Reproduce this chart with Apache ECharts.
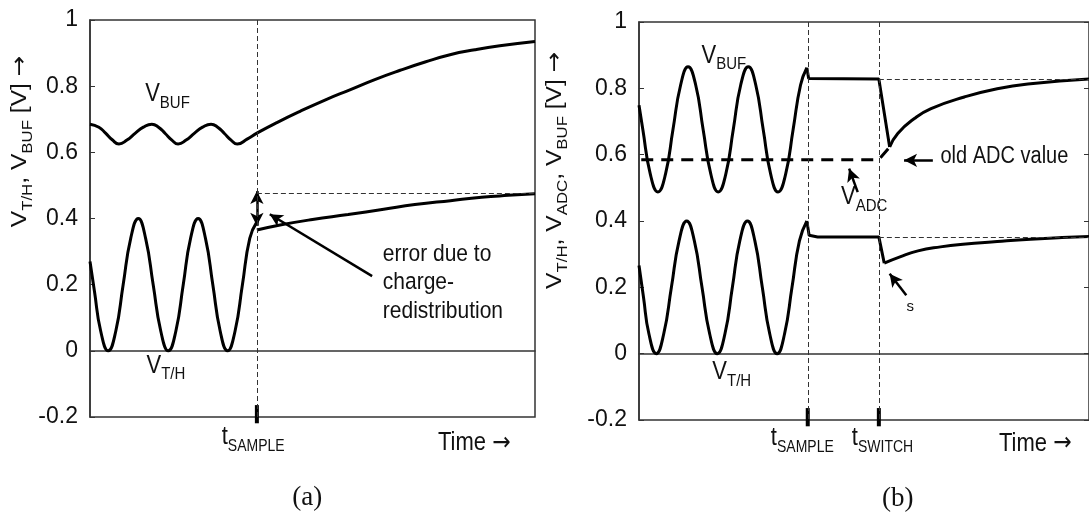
<!DOCTYPE html>
<html>
<head>
<meta charset="utf-8">
<script src="https://cdn.jsdelivr.net/npm/echarts@6/dist/echarts.min.js"></script>
<style>
  html, body { margin: 0; background: #fff; }
  #main { width: 1089px; height: 522px; }
</style>
</head>
<body>
<div id="main"></div>
<script>
// values; time runs 0..100 across each plot
const yMin = -0.2, yMax = 1, yStep = 0.2;
const tSampleA = 37.5;
const tSampleB = 37.5, tSwitchB = 53.3;

// panel (a): track phase, held value after t_SAMPLE, buffer output
const aVthTrack = [[0, 0.27], [1.0, 0.18], [2.4, 0.06], [4.1, 0], [5.8, 0.06], [7.45, 0.2], [9.15, 0.34], [10.85, 0.4],
  [12.5, 0.34], [14.2, 0.2], [15.9, 0.06], [17.6, 0], [19.3, 0.06], [20.95, 0.2], [22.6, 0.34], [24.3, 0.4],
  [25.95, 0.34], [27.6, 0.2], [29.25, 0.06], [30.9, 0], [32.6, 0.06], [34.25, 0.2], [35.9, 0.34], [37.5, 0.39]];
const aVthHeld = [[37.5, 0.365], [43, 0.381], [50, 0.397], [58, 0.412], [66, 0.428], [73, 0.442], [81, 0.454],
  [88, 0.464], [94, 0.47], [100, 0.475]];
const aVbuf = [[0, 0.685], [2.0, 0.676], [3.5, 0.658], [5.0, 0.638], [6.5, 0.625], [8.3, 0.637], [10.2, 0.658],
  [12.0, 0.676], [13.9, 0.685], [15.4, 0.676], [16.9, 0.657], [18.4, 0.637], [19.8, 0.625], [21.6, 0.637],
  [23.5, 0.658], [25.3, 0.676], [27.2, 0.685], [28.7, 0.676], [30.2, 0.657], [31.7, 0.637], [33.1, 0.625],
  [35.3, 0.64], [37.5, 0.658], [42, 0.69], [47.2, 0.724], [52.8, 0.758], [58.4, 0.789], [64, 0.82],
  [69.7, 0.848], [75.3, 0.873], [80.9, 0.895], [86.5, 0.91], [92.1, 0.922], [100, 0.935]];
const aVthIdeal = 0.475;

// panel (b)
const bVthTrack = [[0, 0.266], [1.0, 0.17], [2.2, 0.06], [3.84, 0], [5.5, 0.06], [7.2, 0.2], [8.9, 0.34], [10.6, 0.4],
  [12.3, 0.34], [14.0, 0.2], [15.7, 0.06], [17.4, 0], [19.1, 0.06], [20.75, 0.2], [22.4, 0.34], [24.1, 0.4],
  [25.75, 0.34], [27.4, 0.2], [29.05, 0.06], [30.7, 0], [32.35, 0.06], [34.0, 0.2], [35.65, 0.34], [37.3, 0.4]];
const bVthHold = [[37.3, 0.4], [37.8, 0.357], [39.7, 0.352], [53.3, 0.352], [54.5, 0.273]];
const bVthSettle = [[54.5, 0.273], [58, 0.292], [62, 0.31], [67, 0.322], [72, 0.33], [79.6, 0.338],
  [87, 0.345], [94, 0.35], [100, 0.353]];
const bVbufTrack = [[0, 0.749], [0.85, 0.676], [2.5, 0.542], [4.2, 0.4875], [5.9, 0.542], [7.55, 0.676],
  [9.25, 0.81], [10.9, 0.865], [12.6, 0.81], [14.25, 0.676], [15.95, 0.542], [17.6, 0.4875], [19.3, 0.542],
  [20.95, 0.676], [22.6, 0.81], [24.3, 0.865], [25.95, 0.81], [27.6, 0.676], [29.25, 0.542], [30.9, 0.4875],
  [32.6, 0.542], [34.25, 0.676], [35.9, 0.81], [37.3, 0.862]];
const bVbufHold = [[37.3, 0.862], [37.7, 0.83], [53.3, 0.828], [55.7, 0.623]];
const bVbufSettle = [[55.7, 0.623], [57.5, 0.664], [61.2, 0.709], [64.9, 0.739], [72.3, 0.774],
  [79.6, 0.799], [87, 0.814], [100, 0.828]];
const bVadc = [[0.5, 0.585], [53.3, 0.585], [55.7, 0.623]];
const bBufFinal = 0.828, bThFinal = 0.352;

const FONT = 'Liberation Sans';
const INK = '#111';
const chart = echarts.init(document.getElementById('main'));

function curve(grid, data, smooth, extra) {
  return Object.assign({
    type: 'line', xAxisIndex: grid, yAxisIndex: grid, data: data, smooth: smooth,
    showSymbol: false, silent: true, lineStyle: { color: '#000', width: 3 }
  }, extra || {});
}
function seg(a, b, startSym, endSym) {
  return [{ coord: a, symbol: startSym || 'none' }, { coord: b, symbol: endSym || 'none' }];
}
function guides(list) {
  return { silent: true, symbol: 'none', label: { show: false },
    lineStyle: { color: '#333', width: 1, type: [5, 3] }, emphasis: { disabled: true }, data: list };
}
function arrows(list) {
  return { silent: true, symbolSize: [10, 13], label: { show: false },
    lineStyle: { color: '#000', width: 2.5, type: 'solid' }, emphasis: { disabled: true }, data: list };
}
function tick(grid, t) {
  return curve(grid, [[t, -0.164], [t, -0.219]], false, { clip: false, lineStyle: { color: '#000', width: 4 } });
}
function yAxis(grid, pos) {
  const right = pos === 'right';
  return {
    type: 'value', gridIndex: grid, position: pos, min: yMin, max: yMax, interval: yStep,
    axisLine: { show: !right, lineStyle: { color: '#333', width: 1.5 } },
    axisTick: { inside: true, length: 5, lineStyle: { color: '#333' } },
    axisLabel: { show: !right, fontFamily: FONT, fontSize: 23, color: INK, margin: 12 },
    splitLine: { show: false }
  };
}
function xAxis(grid) {
  return {
    type: 'value', gridIndex: grid, min: 0, max: 100,
    axisLine: { lineStyle: { color: '#333', width: 1.5 } },
    axisTick: { show: false }, axisLabel: { show: false }, splitLine: { show: false }
  };
}

chart.setOption({
  animation: false,
  backgroundColor: '#fff',
  grid: [
    { left: 90, top: 20, width: 445, height: 397, show: true, borderColor: '#333', borderWidth: 1.5 },
    { left: 639, top: 22, width: 453, height: 398, show: true, borderColor: '#333', borderWidth: 1.5 }
  ],
  xAxis: [xAxis(0), xAxis(1)],
  yAxis: [yAxis(0, 'left'), yAxis(1, 'left'), yAxis(1, 'right')],
  series: [
    curve(0, aVthTrack, 0.5, {
      markLine: arrows([
        seg([63.4, 0.226], [40.4, 0.413], 'none', 'arrow'),
        seg([tSampleA, 0.378], [tSampleA, 0.483], 'arrow', 'arrow')
      ])
    }),
    curve(0, aVthHeld, 0.5, {
      markLine: guides([
        seg([tSampleA, yMax], [tSampleA, yMin]),
        seg([tSampleA, aVthIdeal], [100, aVthIdeal])
      ])
    }),
    curve(0, aVbuf, 0.5),
    tick(0, tSampleA),

    curve(1, bVthTrack, 0.5, {
      markLine: arrows([
        seg([65.3, 0.583], [58.9, 0.583], 'none', 'arrow'),
        seg([48.6, 0.487], [46.7, 0.558], 'none', 'arrow'),
        seg([59.4, 0.176], [55.7, 0.241], 'none', 'arrow')
      ])
    }),
    curve(1, bVthHold, false, {
      markLine: guides([
        seg([tSampleB, yMax], [tSampleB, yMin]),
        seg([tSwitchB, yMax], [tSwitchB, yMin]),
        seg([tSwitchB, bBufFinal], [100, bBufFinal]),
        seg([tSwitchB, bThFinal], [100, bThFinal])
      ])
    }),
    curve(1, bVthSettle, 0.5),
    curve(1, bVbufTrack, 0.5),
    curve(1, bVbufHold, false),
    curve(1, bVbufSettle, 0.5),
    curve(1, bVadc, false, { lineStyle: { color: '#000', width: 3, type: [12, 8] } }),
    tick(1, tSampleB),
    tick(1, tSwitchB)
  ]
});

// annotation text, placed in data coordinates of each plot
function px(g, t, v) { return chart.convertToPixel({ xAxisIndex: g, yAxisIndex: g }, [t, v]); }
function rich(size, subSize, family) {
  const f = family || FONT;
  return {
    m: { fontFamily: f, fontSize: size, lineHeight: 30, verticalAlign: 'middle', fill: INK },
    s: { fontFamily: f, fontSize: subSize, lineHeight: 14, verticalAlign: 'bottom', fill: INK },
    a: { fontFamily: 'DejaVu Sans', fontSize: size, lineHeight: 30, verticalAlign: 'middle', fill: INK }
  };
}
function label(g, t, v, text, opts) {
  const o = opts || {};
  const p = px(g, t, v);
  return {
    type: 'text', x: p[0], y: p[1], rotation: o.rotation || 0, silent: true,
    scaleX: o.scaleX || 1, scaleY: o.scaleY || 1,
    style: {
      text: text, rich: rich(o.size || 22, o.sub || 15, o.family),
      fontFamily: o.family || FONT, fontSize: o.size || 22, fill: INK,
      align: o.align || 'left', verticalAlign: 'middle'
    }
  };
}
const up = { rotation: Math.PI / 2, align: 'center', scaleX: 1.12 };
const tall = { scaleY: 1.15 };
chart.setOption({
  graphic: [
    label(0, 12.4, 0.775, '{m|V}{s|BUF}', tall),
    label(0, 12.7, -0.045, '{m|V}{s|T/H}', tall),
    label(0, 65.8, 0.293, '{m|error due to}', Object.assign({ size: 21 }, tall)),
    label(0, 65.8, 0.208, '{m|charge-}', Object.assign({ size: 21 }, tall)),
    label(0, 65.8, 0.118, '{m|redistribution}', Object.assign({ size: 21 }, tall)),
    label(0, 29.6, -0.262, '{m|t}{s|SAMPLE}', { sub: 14, scaleY: 1.15 }),
    label(0, 78.2, -0.28, '{m|Time }{a|→}', tall),
    label(0, 48.8, -0.446, '{m|(a)}', { size: 27, family: 'Liberation Serif', align: 'center' }),
    label(0, -15.7, 0.633, '{m|V}{s|T/H}{m|, V}{s|BUF}{m| [V] }{a|→}', up),

    label(1, 13.9, 0.898, '{m|V}{s|BUF}', tall),
    label(1, 16.3, -0.056, '{m|V}{s|T/H}', tall),
    label(1, 44.9, 0.472, '{m|V}{s|ADC}', tall),
    label(1, 67.0, 0.593, '{m|old ADC value}', Object.assign({ size: 20 }, tall)),
    label(1, 60.3, 0.141, '{s|s}', { sub: 15, align: 'center' }),
    label(1, 29.3, -0.254, '{m|t}{s|SAMPLE}', { sub: 14, scaleY: 1.15 }),
    label(1, 47.3, -0.254, '{m|t}{s|SWITCH}', { sub: 14, scaleY: 1.15 }),
    label(1, 80.0, -0.271, '{m|Time }{a|→}', tall),
    label(1, 57.5, -0.437, '{m|(b)}', { size: 27, family: 'Liberation Serif', align: 'center' }),
    label(1, -18.6, 0.553, '{m|V}{s|T/H}{m|, V}{s|ADC}{m|, V}{s|BUF}{m| [V] }{a|→}', up)
  ]
});
</script>
</body>
</html>
